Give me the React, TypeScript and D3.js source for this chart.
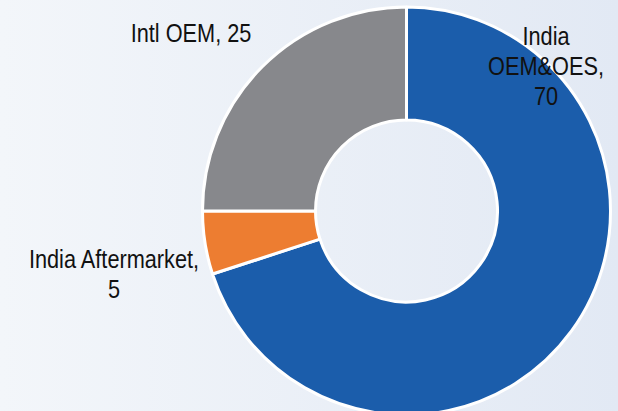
import React from "react";
import * as d3 from "d3";

const categories: string[] = ["India OEM&OES", "India Aftermarket", "Intl OEM"];
const values: number[] = [70, 5, 25];
const labelLines: string[][] = [["India", "OEM&OES,", "70"], ["India Aftermarket,", "5"], ["Intl OEM, 25"]];

const colors = ["#1B5DAB", "#ED7D31", "#87888C"];
const labelPos: [number, number][] = [[546, 45], [114, 268], [191, 42]];

const W = 618;
const H = 411;
const cx = 406.5;
const cy = 211;
const outerR = 204;
const innerR = 91;
const lineH = 30;

export default function App() {
  const data = categories.map((c, i) => ({ c, v: values[i], i }));
  const pie = d3.pie<any>().sort(null).value((d: any) => d.v).startAngle(0).endAngle(2 * Math.PI);
  const arc = d3.arc<any>().innerRadius(innerR).outerRadius(outerR);
  const arcs = pie(data);
  return (
    <svg width={W} height={H} style={{ position: "absolute", left: 0, top: 0 }}>
      <defs>
        <linearGradient id="bg" x1="0" y1="0" x2="1" y2="0">
          <stop offset="0" stopColor="#F3F6FA" />
          <stop offset="1" stopColor="#E2E9F4" />
        </linearGradient>
      </defs>
      <rect x={0} y={0} width={W} height={H} fill="url(#bg)" />
      <g transform={`translate(${cx},${cy})`}>
        {arcs.map((a, i) => (
          <path key={i} d={arc(a) || ""} fill={colors[i]} stroke="#FFFFFF" strokeWidth={3} strokeLinejoin="round" />
        ))}
      </g>
      {labelLines.map((lines, i) => (
        <g key={i} transform={`translate(${labelPos[i][0]},${labelPos[i][1]}) scale(0.82,1)`}>
          <text
            textAnchor="middle"
            fontFamily="'Liberation Sans', Arial, sans-serif"
            fontSize={26.5}
            fill="#111111"
          >
            {lines.map((l, j) => (
              <tspan key={j} x={0} y={j * lineH}>
                {l}
              </tspan>
            ))}
          </text>
        </g>
      ))}
    </svg>
  );
}
